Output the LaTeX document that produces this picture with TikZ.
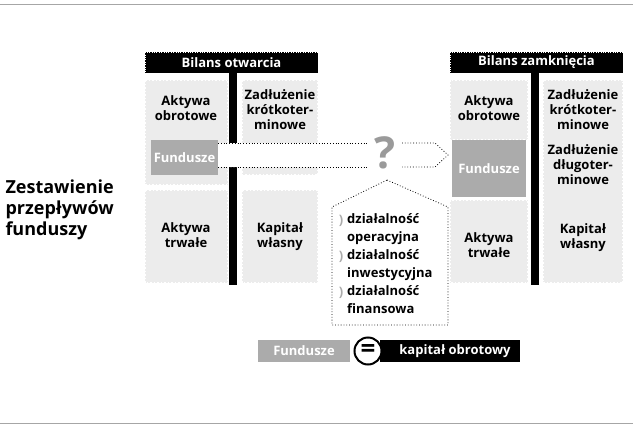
\documentclass[tikz,border=0pt]{standalone}
\usepackage{fontspec}
\setmainfont{Open Sans}
\usepackage{tikz}
\usepackage{xcolor}
\definecolor{cellgray}{HTML}{ECECEC}
\definecolor{fundgray}{HTML}{ABABAB}
\definecolor{qgray}{HTML}{9A9A9A}
\tikzset{
    cell/.style={fill=cellgray, draw=white, line width=1.5pt, dotted},
    head/.style={fill=black, draw=white, dotted, text=white, font=\bfseries\fontsize{13}{14}\selectfont, inner sep=0pt},
    lbl/.style={font=\bfseries\fontsize{13}{15}\selectfont, align=center},
    item/.style={font=\bfseries\fontsize{13}{18}\selectfont, align=left, anchor=north west},
}
\begin{document}
\begin{tikzpicture}[x=1pt, y=-1pt]
    \useasboundingbox (0,0) rectangle (633,429);
    \draw[gray!70] (0,4) -- (633,4);
    \draw[gray!70] (0,423) -- (633,423);

    \node[font=\bfseries\fontsize{18}{21}\selectfont, align=left, anchor=west] (title) at (2,210) {Zestawienie\\przepływów\\funduszy};

    % bilans otwarcia
    \node[head, minimum width=173pt, minimum height=21pt] (bo) at (231.5,62.5) {Bilans otwarcia};
    \fill[cell] (145,80) rectangle (228,185);
    \fill[cell] (145,190) rectangle (228,283);
    \fill[cell] (242,80) rectangle (318,175);
    \fill[cell] (242,190) rectangle (318,283);
    \fill[black] (229,73) rectangle (237,285);
    \node[lbl] (ao1) at (186,108) {Aktywa\\obrotowe};
    \node[lbl] (at1) at (186,235) {Aktywa\\trwałe};
    \node[lbl] (zk1) at (280,110) {Zadłużenie\\krótkoter-\\minowe};
    \node[lbl] (kw1) at (280,237) {Kapitał\\własny};

    % arrow
    \coordinate (tip) at (448,155);
    \fill[white] (218,143) -- (435,143) -- (tip) -- (435,167) -- (218,167) -- cycle;
    \draw[dotted, thick] (218,143) -- (367,143);
    \draw[dotted, thick] (218,167) -- (367,167);
    \draw[dotted, thick] (402,143) -- (435,143) -- (tip) -- (435,167) -- (402,167);
    \node[fill=fundgray, text=white, font=\bfseries\fontsize{13}{14}\selectfont, minimum width=67pt, minimum height=35pt, inner sep=0pt] (f1) at (184.5,157.5) {Fundusze};
    \node[text=qgray, font=\bfseries\fontsize{44}{46}\selectfont] (q) at (385,153) {?};

    % pentagon
    \draw[dotted, thick] (387,180) -- (448,207) -- (448,325) -- (332,325) -- (332,207) -- cycle;
    \foreach \y/\t in {213/{działalność\\operacyjna}, 249/{działalność\\inwestycyjna}, 285/{działalność\\finansowa}}{
        \node[text=fundgray, font=\bfseries\fontsize{13}{14}\selectfont] at (341,\y+8) {)};
        \node[item, inner sep=0pt] at (347,\y) {\t};
    }

    % bilans zamkniecia
    \node[head, minimum width=173pt, minimum height=21pt] (bz) at (536.5,62.5) {Bilans zamknięcia};
    \fill[cell] (450,80) rectangle (528,140);
    \fill[cell] (450,200) rectangle (528,283);
    \fill[cell] (543,80) rectangle (623,283);
    \fill[black] (531,73) rectangle (539,285);
    \node[fill=fundgray, text=white, font=\bfseries\fontsize{13}{14}\selectfont, minimum width=74pt, minimum height=57pt, inner sep=0pt] (f2) at (489,168.5) {Fundusze};
    \node[lbl] (ao2) at (489,108) {Aktywa\\obrotowe};
    \node[lbl] (at2) at (489,245) {Aktywa\\trwałe};
    \node[lbl] (zk2) at (583,110) {Zadłużenie\\krótkoter-\\minowe};
    \node[lbl] (zd2) at (583,165) {Zadłużenie\\długoter-\\minowe};
    \node[lbl] (kw2) at (583,238) {Kapitał\\własny};

    % legend
    \node[fill=fundgray, text=white, font=\bfseries\fontsize{13}{14}\selectfont, minimum width=92pt, minimum height=22pt, inner sep=0pt] (lf) at (304,351) {Fundusze};
    \node[fill=black, text=white, font=\bfseries\fontsize{13}{14}\selectfont, minimum width=140pt, minimum height=22pt, inner sep=0pt] (lk) at (450,351) {\hspace{10pt}kapitał obrotowy};
    \node[circle, draw=black, line width=2pt, fill=white, minimum size=27pt, inner sep=0pt, font=\bfseries\fontsize{26}{26}\selectfont] (eq) at (368,351) {=};
\end{tikzpicture}
\end{document}
